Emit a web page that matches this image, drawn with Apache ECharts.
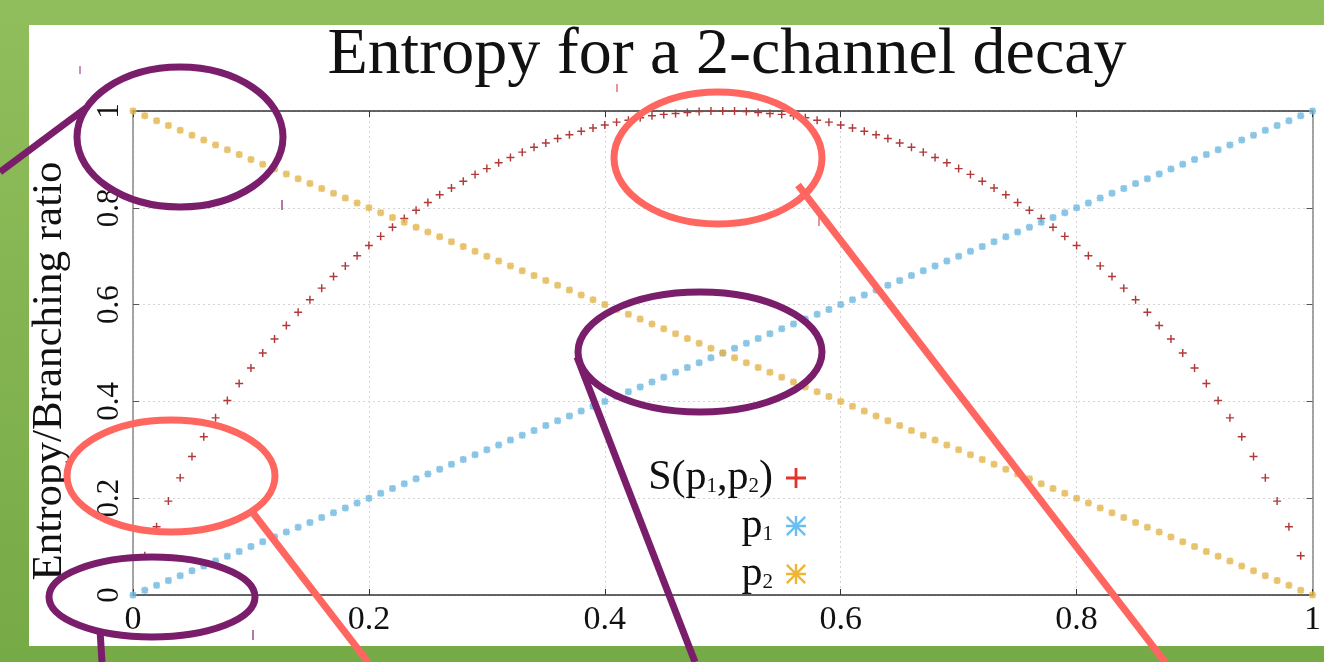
<!DOCTYPE html>
<html><head><meta charset="utf-8">
<script src="https://cdn.jsdelivr.net/npm/echarts@6/dist/echarts.min.js"></script>
<style>html,body{margin:0;padding:0;background:#86b651}#c{width:1324px;height:662px}</style>
</head><body><div id="c"></div>
<script>
const titleText = 'Entropy for a 2-channel decay';
const yAxisName = 'Entropy/Branching ratio';
const seriesNames = ['S(p1,p2)', 'p1', 'p2'];
const xTicks = [0, 0.2, 0.4, 0.6, 0.8, 1];
const yTicks = [0, 0.2, 0.4, 0.6, 0.8, 1];
const xValues = [0,0.01,0.02,0.03,0.04,0.05,0.06,0.07,0.08,0.09,0.10,0.11,0.12,0.13,0.14,0.15,0.16,0.17,0.18,0.19,0.20,0.21,0.22,0.23,0.24,0.25,0.26,0.27,0.28,0.29,0.30,0.31,0.32,0.33,0.34,0.35,0.36,0.37,0.38,0.39,0.40,0.41,0.42,0.43,0.44,0.45,0.46,0.47,0.48,0.49,0.50,0.51,0.52,0.53,0.54,0.55,0.56,0.57,0.58,0.59,0.60,0.61,0.62,0.63,0.64,0.65,0.66,0.67,0.68,0.69,0.70,0.71,0.72,0.73,0.74,0.75,0.76,0.77,0.78,0.79,0.80,0.81,0.82,0.83,0.84,0.85,0.86,0.87,0.88,0.89,0.90,0.91,0.92,0.93,0.94,0.95,0.96,0.97,0.98,0.99,1];
const sValues = [null,0.081,0.141,0.194,0.242,0.286,0.327,0.366,0.402,0.437,0.469,0.500,0.529,0.557,0.584,0.610,0.634,0.658,0.680,0.701,0.722,0.741,0.760,0.778,0.795,0.811,0.827,0.841,0.855,0.869,0.881,0.893,0.904,0.915,0.925,0.934,0.943,0.951,0.958,0.965,0.971,0.977,0.981,0.986,0.990,0.993,0.995,0.997,0.999,1.000,1.000,1.000,0.999,0.997,0.995,0.993,0.990,0.986,0.981,0.977,0.971,0.965,0.958,0.951,0.943,0.934,0.925,0.915,0.904,0.893,0.881,0.869,0.855,0.841,0.827,0.811,0.795,0.778,0.760,0.741,0.722,0.701,0.680,0.658,0.634,0.610,0.584,0.557,0.529,0.500,0.469,0.437,0.402,0.366,0.327,0.286,0.242,0.194,0.141,0.081,null];
const p1Values = [0,0.01,0.02,0.03,0.04,0.05,0.06,0.07,0.08,0.09,0.10,0.11,0.12,0.13,0.14,0.15,0.16,0.17,0.18,0.19,0.20,0.21,0.22,0.23,0.24,0.25,0.26,0.27,0.28,0.29,0.30,0.31,0.32,0.33,0.34,0.35,0.36,0.37,0.38,0.39,0.40,0.41,0.42,0.43,0.44,0.45,0.46,0.47,0.48,0.49,0.50,0.51,0.52,0.53,0.54,0.55,0.56,0.57,0.58,0.59,0.60,0.61,0.62,0.63,0.64,0.65,0.66,0.67,0.68,0.69,0.70,0.71,0.72,0.73,0.74,0.75,0.76,0.77,0.78,0.79,0.80,0.81,0.82,0.83,0.84,0.85,0.86,0.87,0.88,0.89,0.90,0.91,0.92,0.93,0.94,0.95,0.96,0.97,0.98,0.99,1];
const p2Values = [1,0.99,0.98,0.97,0.96,0.95,0.94,0.93,0.92,0.91,0.90,0.89,0.88,0.87,0.86,0.85,0.84,0.83,0.82,0.81,0.80,0.79,0.78,0.77,0.76,0.75,0.74,0.73,0.72,0.71,0.70,0.69,0.68,0.67,0.66,0.65,0.64,0.63,0.62,0.61,0.60,0.59,0.58,0.57,0.56,0.55,0.54,0.53,0.52,0.51,0.50,0.49,0.48,0.47,0.46,0.45,0.44,0.43,0.42,0.41,0.40,0.39,0.38,0.37,0.36,0.35,0.34,0.33,0.32,0.31,0.30,0.29,0.28,0.27,0.26,0.25,0.24,0.23,0.22,0.21,0.20,0.19,0.18,0.17,0.16,0.15,0.14,0.13,0.12,0.11,0.10,0.09,0.08,0.07,0.06,0.05,0.04,0.03,0.02,0.01,0];

const SERIF = "'Liberation Serif','DejaVu Serif',serif";
const plusPath = t => { const a = 50 - t, b = 50 + t; return `path://M0 ${a}L100 ${a}L100 ${b}L0 ${b}ZM${a} 0L${b} 0L${b} 100L${a} 100Z`; };
const starPath = t => { const a = 50 - t, b = 50 + t, d = t * 1.41;
  return `path://M0 ${a}L100 ${a}L100 ${b}L0 ${b}ZM${a} 0L${b} 0L${b} 100L${a} 100Z` +
    `M${d} 0L100 ${100-d}L${100-d} 100L0 ${d}ZM${100-d} 0L100 ${d}L${d} 100L0 ${100-d}Z`; };

const pairs = ys => xValues.map((x, i) => [x, ys[i]]);
const legendLabel = { 'S(p1,p2)': '{n|S(p}{s|1}{n|,p}{s|2}{n|)}', 'p1': '{n|p}{s|1}', 'p2': '{n|p}{s|2}' };
const legendText = {
  fontFamily: SERIF, fontSize: 42, color: '#111',
  rich: { n: { fontFamily: SERIF, fontSize: 42, color: '#111' },
          s: { fontFamily: SERIF, fontSize: 21, color: '#111', verticalAlign: 'bottom', padding: [0, 0, 2, 0] } }
};
const mkLegend = (name, top, icon, color) => ({
  show: true, orient: 'horizontal', align: 'right', right: 513, top: top,
  itemWidth: 36, itemHeight: 20, selectedMode: false,
  formatter: n => legendLabel[n], textStyle: legendText,
  data: [{ name: name, icon: icon, itemStyle: { color: color, borderWidth: 0 } }]
});

const fmt = v => String(+v.toFixed(2));
const axisCommon = (ticks) => ({ type: 'value', min: ticks[0], max: ticks[ticks.length - 1], interval: ticks[1] - ticks[0] });

const purple = '#7a1e6c', salmon = '#ff6660';
const ell = (cx, cy, rx, ry, c) => ({ type: 'ellipse', z: 100, silent: true, shape: { cx, cy, rx, ry }, style: { fill: 'none', stroke: c, lineWidth: 7 } });
const seg = (x1, y1, x2, y2, c, w) => ({ type: 'line', z: 100, silent: true, shape: { x1, y1, x2, y2 }, style: { stroke: c, lineWidth: w || 7 } });

const chart = echarts.init(document.getElementById('c'));
chart.setOption({
  animation: false,
  backgroundColor: { type: 'linear', x: 0, y: 0, x2: 0, y2: 1, colorStops: [{ offset: 0, color: '#91be5c' }, { offset: 1, color: '#76aa46' }] },
  title: { text: titleText, left: 722, textAlign: 'center', top: 18, textStyle: { fontFamily: SERIF, fontSize: 66, fontWeight: 'normal', color: '#111' } },
  grid: { left: 133, right: 11, top: 111, bottom: 67 },
  xAxis: [
    Object.assign(axisCommon(xTicks), {
      position: 'bottom',
      axisLine: { show: true, onZero: false, lineStyle: { color: '#333', width: 1.5 } },
      axisTick: { show: true, inside: true, length: 6, lineStyle: { color: '#333' } },
      axisLabel: { fontFamily: SERIF, fontSize: 34, color: '#111', margin: 8, formatter: fmt },
      splitLine: { show: true, lineStyle: { color: '#d4d4d4', type: [2, 3], width: 1 } }
    }),
    Object.assign(axisCommon(xTicks), {
      position: 'top',
      axisLine: { show: true, onZero: false, lineStyle: { color: '#333', width: 1.5 } },
      axisTick: { show: true, inside: true, length: 6, lineStyle: { color: '#333' } },
      axisLabel: { show: false }, splitLine: { show: false }
    })
  ],
  yAxis: [
    Object.assign(axisCommon(yTicks), {
      position: 'left',
      name: yAxisName, nameLocation: 'middle', nameGap: 62, nameRotate: 90,
      nameTextStyle: { fontFamily: SERIF, fontSize: 43, color: '#111', padding: [0, 36, 0, 0] },
      axisLine: { show: true, onZero: false, lineStyle: { color: '#888', width: 1.5 } },
      axisTick: { show: true, inside: true, length: 6, lineStyle: { color: '#555' } },
      axisLabel: { fontFamily: SERIF, fontSize: 31, color: '#111', margin: 8, rotate: 90, formatter: fmt },
      splitLine: { show: true, lineStyle: { color: '#d4d4d4', type: [2, 3], width: 1 } }
    }),
    Object.assign(axisCommon(yTicks), {
      position: 'right',
      axisLine: { show: true, onZero: false, lineStyle: { color: '#888', width: 1.5 } },
      axisTick: { show: true, inside: true, length: 6, lineStyle: { color: '#555' } },
      axisLabel: { show: false }, splitLine: { show: false }
    })
  ],
  legend: [
    mkLegend(seriesNames[0], 452, plusPath(7), '#e8302a'),
    mkLegend(seriesNames[1], 500, starPath(6), '#44b0ec'),
    mkLegend(seriesNames[2], 548, starPath(6), '#e8a400')
  ],
  series: [
    { name: seriesNames[0], type: 'scatter', xAxisIndex: 0, yAxisIndex: 0, data: pairs(sValues), symbol: plusPath(9), symbolSize: 8, itemStyle: { color: '#b03a3a', opacity: 1 } },
    { name: seriesNames[1], type: 'scatter', xAxisIndex: 0, yAxisIndex: 0, data: pairs(p1Values), symbol: starPath(15), symbolSize: 7, itemStyle: { color: '#6cb6de' } },
    { name: seriesNames[2], type: 'scatter', xAxisIndex: 0, yAxisIndex: 0, data: pairs(p2Values), symbol: starPath(15), symbolSize: 7, itemStyle: { color: '#e2b448' } }
  ],
  graphic: [
    { type: 'rect', z: -100, silent: true, shape: { x: 29, y: 25, width: 1295, height: 621 }, style: { fill: '#ffffff' } },
    ell(180, 137, 103, 70, purple),
    seg(0, 172, 86, 108, purple),
    ell(718, 158, 104, 66, salmon),
    seg(798, 185, 1165, 662, salmon),
    ell(700, 352, 122, 60, purple),
    seg(577, 357, 695, 662, purple),
    ell(171, 476, 104, 56, salmon),
    seg(253, 513, 368, 662, salmon),
    ell(152, 597, 103, 40, purple),
    seg(100, 630, 102, 662, purple),
    seg(80, 66, 80, 74, '#b070a8', 1.5),
    seg(282, 200, 282, 210, '#9a4a90', 1.5),
    seg(617, 84, 617, 92, '#e07070', 1.5),
    seg(819, 216, 819, 226, '#e07070', 1.5),
    seg(253, 630, 253, 640, '#9a4a90', 1.5)
  ]
});
</script>
</body></html>
